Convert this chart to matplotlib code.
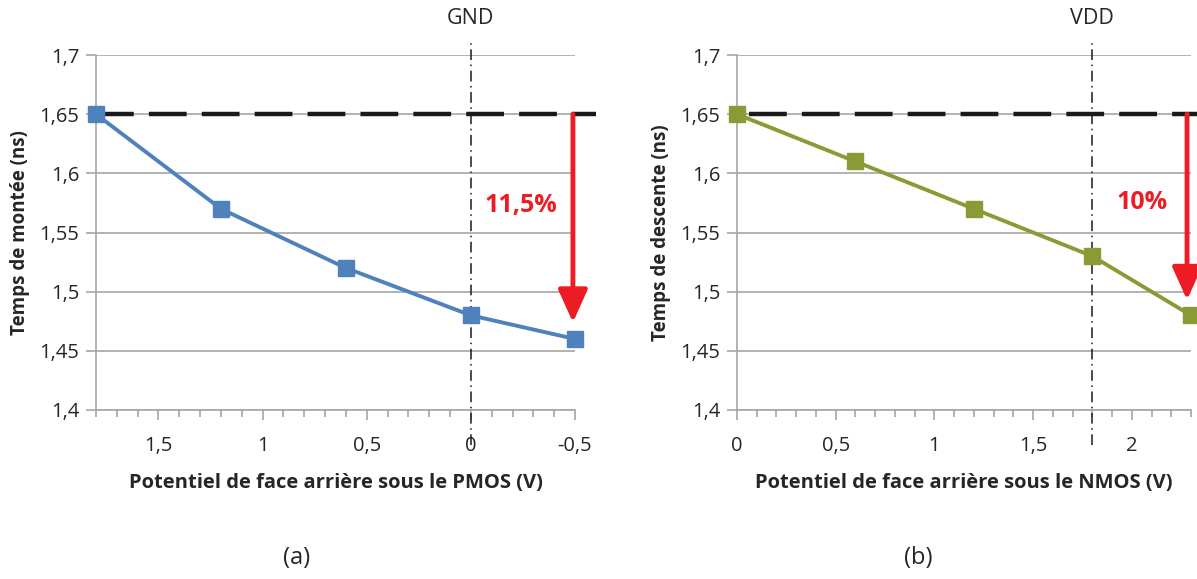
import matplotlib
matplotlib.use("Agg")
import matplotlib.pyplot as plt
from matplotlib.ticker import MultipleLocator, FuncFormatter

plt.rcParams['font.family'] = ['Open Sans', 'DejaVu Sans']

# Data
x_pmos = [1.8, 1.2, 0.6, 0.0, -0.5]
t_montee = [1.65, 1.57, 1.52, 1.48, 1.46]
x_nmos = [0.0, 0.6, 1.2, 1.8, 2.3]
t_descente = [1.65, 1.61, 1.57, 1.53, 1.48]
ref_value = 1.65
yticks = [1.4, 1.45, 1.5, 1.55, 1.6, 1.65, 1.7]

BLUE = '#4F81BD'
GREEN = '#8A9B35'
RED = '#ED1C24'
GRID = '#A6A6A6'
TXT = '#262626'

fig = plt.figure(figsize=(11.97, 5.79), dpi=100)
axL = fig.add_axes([96/1197, 1-410/579, (575-96)/1197, (410-55)/579])
axR = fig.add_axes([737/1197, 1-410/579, (1191-737)/1197, (410-55)/579])

fmt = FuncFormatter(lambda v, p: ('%g' % round(v, 2)).replace('.', ','))


def style(ax, xlim, xlabel, ylabel):
    ax.set_xlim(*xlim)
    ax.set_ylim(1.4, 1.7)
    ax.set_yticks(yticks)
    ax.yaxis.set_major_formatter(fmt)
    ax.xaxis.set_major_locator(MultipleLocator(0.5))
    ax.xaxis.set_minor_locator(MultipleLocator(0.1))
    ax.xaxis.set_major_formatter(fmt)
    for s in ['top', 'right']:
        ax.spines[s].set_visible(False)
    for s in ['left', 'bottom']:
        ax.spines[s].set_color(GRID)
        ax.spines[s].set_linewidth(1.2)
    ax.grid(axis='y', color=GRID, lw=1.2, zorder=0)
    ax.tick_params(axis='y', length=7, width=1.2, color=GRID, labelsize=14.5,
                   labelcolor=TXT, pad=5)
    ax.tick_params(axis='x', which='major', length=7, width=1.2, color=GRID,
                   labelsize=14.5, labelcolor=TXT, pad=12)
    ax.tick_params(axis='x', which='minor', length=5, width=1.2, color=GRID)
    ax.set_xlabel(xlabel, fontsize=14.5, fontweight='bold', color=TXT, labelpad=12)
    ax.set_ylabel(ylabel, fontsize=13.5, fontweight='bold', color=TXT, labelpad=7)
    ax.set_axisbelow(True)


style(axL, (1.8, -0.5), 'Potentiel de face arrière sous le PMOS (V)', 'Temps de montée (ns)')
style(axR, (0.0, 2.3), 'Potentiel de face arrière sous le NMOS (V)', 'Temps de descente (ns)')

# Vertical reference lines (dash-dot)
for ax, xv, lab in [(axL, 0.0, 'GND'), (axR, 1.8, 'VDD')]:
    ax.plot([xv, xv], [1.37, 1.71], color='#1a1a1a', lw=1.1,
            linestyle=(0, (7, 3, 1, 3)), clip_on=False, zorder=2)
    ax.text(xv, 1.722, lab, ha='center', va='bottom', fontsize=15.5, color=TXT)

# Horizontal dashed reference line at 1.65
axL.plot([1.8, -0.6], [ref_value, ref_value], color='#1a1a1a', lw=3.2,
         linestyle=(0, (8.5, 3.4)), clip_on=False, zorder=3)
axR.plot([0.06, 2.45], [ref_value, ref_value], color='#1a1a1a', lw=3.2,
         linestyle=(0, (8.5, 3.4)), clip_on=False, zorder=3)

# Series
axL.plot(x_pmos, t_montee, color=BLUE, lw=2.8, marker='s', markersize=11,
         clip_on=False, zorder=5)
axR.plot(x_nmos, t_descente, color=GREEN, lw=2.8, marker='s', markersize=11,
         clip_on=False, zorder=5)

# Red arrows
arrow_kw = dict(arrowstyle='-|>,head_length=1.0,head_width=0.45', color=RED,
                lw=3.5, mutation_scale=20, shrinkA=0, shrinkB=0)
axL.annotate('', xy=(-0.49, 1.474), xytext=(-0.49, ref_value),
             arrowprops=arrow_kw, annotation_clip=False, zorder=6)
axR.annotate('', xy=(2.28, 1.493), xytext=(2.28, ref_value),
             arrowprops=arrow_kw, annotation_clip=False, zorder=6)

axL.text(-0.24, 1.573, '11,5%', ha='center', va='center', fontsize=18,
         fontweight='bold', color=RED)
axR.text(2.05, 1.575, '10%', ha='center', va='center', fontsize=18,
         fontweight='bold', color=RED)

fig.text(297/1197, 1-558/579, '(a)', ha='center', va='center', fontsize=17, color=TXT)
fig.text(918/1197, 1-558/579, '(b)', ha='center', va='center', fontsize=17, color=TXT)

fig.savefig('out.png', dpi=100)
